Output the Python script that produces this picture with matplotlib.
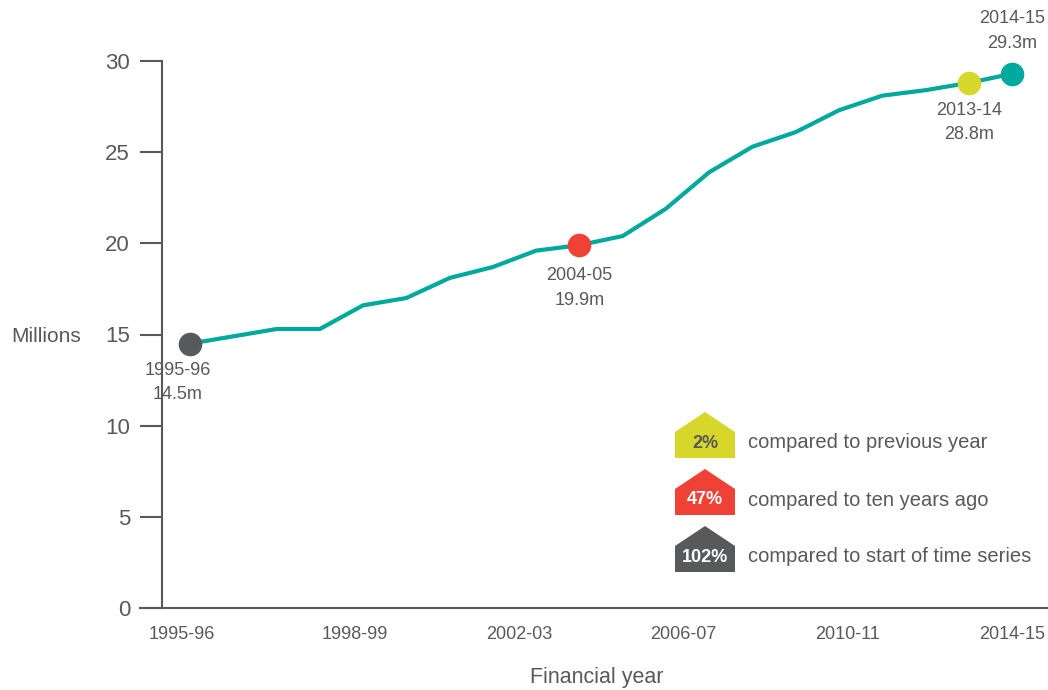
import matplotlib
matplotlib.use('Agg')
import matplotlib.pyplot as plt
from matplotlib.patches import Polygon

# data
years = ['1995-96', '1996-97', '1997-98', '1998-99', '1999-00', '2000-01', '2001-02',
         '2002-03', '2003-04', '2004-05', '2005-06', '2006-07', '2007-08', '2008-09',
         '2009-10', '2010-11', '2011-12', '2012-13', '2013-14', '2014-15']
millions = [14.5, 14.9, 15.3, 15.3, 16.6, 17.0, 18.1, 18.7, 19.6, 19.9,
            20.4, 21.9, 23.9, 25.3, 26.1, 27.3, 28.1, 28.4, 28.8, 29.3]
tick_labels = ['1995-96', '1998-99', '2002-03', '2006-07', '2010-11', '2014-15']
tick_pos = [-0.2, 3.8, 7.6, 11.4, 15.2, 19]

# highlighted points: index, colour, label offset (points)
hl_idx = [0, 9, 18, 19]
hl_colors = ['#58595b', '#ef4136', '#d7d62b', '#00a99d']
hl_offsets = [(-9, -13), (0, -16), (0, -14), (0, 16)]

badge_labels = ['2%', '47%', '102%']
badge_texts = ['compared to previous year', 'compared to ten years ago',
               'compared to start of time series']
badge_colors = ['#d7d62b', '#ef4136', '#58595b']
badge_text_colors = ['#58595b', 'white', 'white']

TEAL = '#00a99d'
GREY = '#58595b'
W, H = 1048, 690

plt.rcParams['font.family'] = ['Liberation Sans', 'DejaVu Sans']

fig = plt.figure(figsize=(W / 100, H / 100), dpi=100)
ax = fig.add_axes([162 / W, (H - 608) / H, (W - 162) / W, 547 / H])

x = list(range(len(years)))
ax.plot(x, millions, color=TEAL, lw=3, zorder=2)
for i, c, off in zip(hl_idx, hl_colors, hl_offsets):
    ax.plot(x[i], millions[i], 'o', ms=17, color=c, mec='none', zorder=3)
    va = 'top' if off[1] < 0 else 'bottom'
    ax.annotate(f'{years[i]}\n{millions[i]}m', (x[i], millions[i]),
                xytext=off, textcoords='offset points', ha='center', va=va,
                fontsize=13, color=GREY, linespacing=1.55)

ax.set_xlim(-0.647, 19.83)
ax.set_ylim(0, 30)
ax.set_yticks(range(0, 31, 5))
ax.set_xticks(tick_pos)
ax.set_xticklabels(tick_labels)
ax.tick_params(axis='y', length=16, width=1.5, color=GREY, labelcolor=GREY,
               labelsize=16, pad=7)
ax.tick_params(axis='x', length=0, labelcolor=GREY, labelsize=13, pad=13)
for s in ['top', 'right']:
    ax.spines[s].set_visible(False)
for s in ['left', 'bottom']:
    ax.spines[s].set_color(GREY)
    ax.spines[s].set_linewidth(1.5)
ax.spines['bottom'].set_bounds(-0.647 - 22 / 43.26, 19.83)
ax.spines['bottom'].set_clip_on(False)

ax.set_xlabel('Financial year', fontsize=15.5, color=GREY)
ax.xaxis.set_label_coords((597 - 162) / 886, -(677 - 608) / 547)
ax.xaxis.label.set_va('center')
ax.set_ylabel('Millions', fontsize=15, color=GREY, rotation=0, ha='center', va='center')
ax.yaxis.set_label_coords((46 - 162) / 886, (608 - 337) / 547)


def fig_xy(px, py):
    return px / W, (H - py) / H


# house-shaped badges
for k, (lab, txt, col, tc) in enumerate(zip(badge_labels, badge_texts, badge_colors, badge_text_colors)):
    top = 412 + k * 57
    pts = [(675, top + 20), (705, top), (735, top + 20), (735, top + 46), (675, top + 46)]
    fig.patches.append(Polygon([fig_xy(*p) for p in pts], closed=True,
                               transform=fig.transFigure, facecolor=col, edgecolor='none'))
    fig.text(*fig_xy(705, top + 31), lab, ha='center', va='center', fontsize=13,
             fontweight='bold', color=tc)
    fig.text(*fig_xy(748, top + 31), txt, ha='left', va='center', fontsize=14.5, color=GREY)

fig.savefig('out.png', dpi=100)
